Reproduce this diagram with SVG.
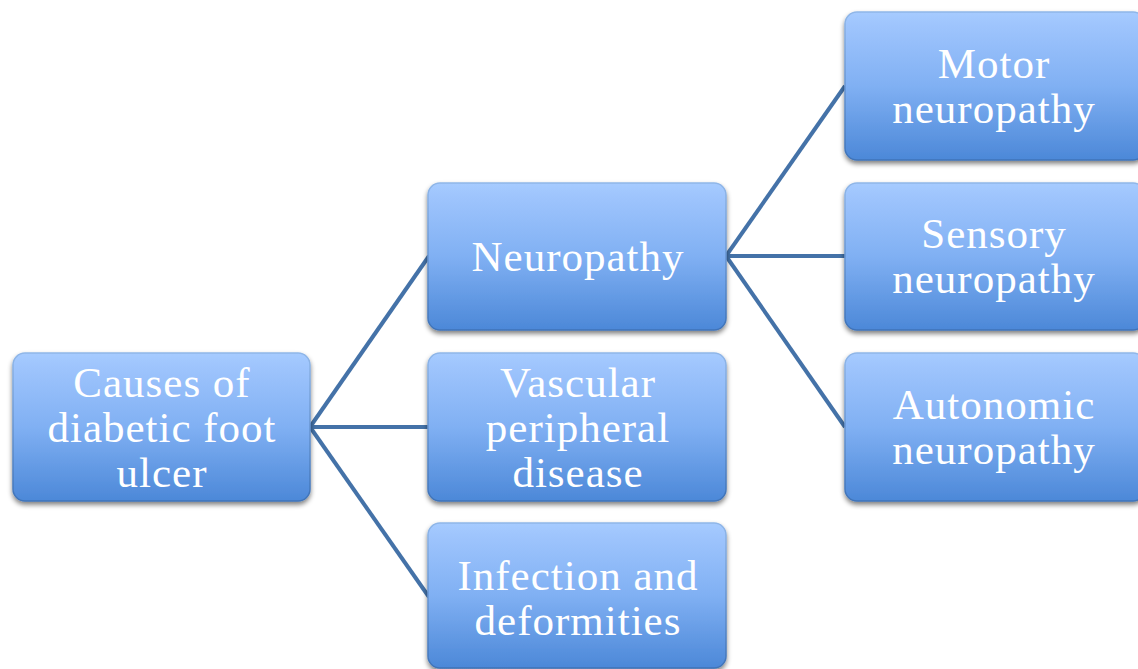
<svg xmlns="http://www.w3.org/2000/svg" width="1138" height="669" viewBox="0 0 1138 669">
<defs>
<linearGradient id="fill" x1="0" y1="0" x2="0" y2="1">
<stop offset="0" stop-color="#a6cbff"/>
<stop offset="0.08" stop-color="#9fc5fd"/>
<stop offset="0.5" stop-color="#80b0f3"/>
<stop offset="1" stop-color="#4c88d8"/>
</linearGradient>
<linearGradient id="edge" x1="0" y1="0" x2="0" y2="1">
<stop offset="0" stop-color="#8fb6e8"/>
<stop offset="1" stop-color="#3f73b8"/>
</linearGradient>
<filter id="sh" x="-10%" y="-10%" width="120%" height="125%">
<feGaussianBlur in="SourceAlpha" stdDeviation="2.5"/>
<feOffset dx="0" dy="3" result="b"/>
<feComponentTransfer><feFuncA type="linear" slope="0.5"/></feComponentTransfer>
<feMerge><feMergeNode/><feMergeNode in="SourceGraphic"/></feMerge>
</filter>
</defs>
<style>
.box{fill:url(#fill);stroke:url(#edge);stroke-width:1.5;filter:url(#sh)}
.lbl{font-family:"Liberation Serif","DejaVu Serif",serif;font-size:43px;fill:#ffffff;text-anchor:middle;letter-spacing:1px}
.con{stroke:#4472a8;stroke-width:4;fill:none}
</style>
<rect width="1138" height="669" fill="#ffffff"/>
<g id="connectors">
<line class="con" x1="310" y1="427" x2="429" y2="256"/>
<line class="con" x1="310" y1="427" x2="429" y2="427"/>
<line class="con" x1="310" y1="427" x2="429" y2="597"/>
<line class="con" x1="726" y1="256" x2="845" y2="86"/>
<line class="con" x1="726" y1="256" x2="845" y2="256"/>
<line class="con" x1="726" y1="256" x2="845" y2="427"/>
</g>
<g id="root">
<rect class="box" x="13" y="353" width="297" height="148" rx="12"/>
<text class="lbl" x="162" y="397">Causes of</text>
<text class="lbl" x="162" y="442">diabetic foot</text>
<text class="lbl" x="162" y="487">ulcer</text>
</g>
<g id="neuropathy">
<rect class="box" x="428" y="183" width="298" height="147" rx="12"/>
<text class="lbl" x="578" y="271">Neuropathy</text>
</g>
<g id="vascular">
<rect class="box" x="428" y="353" width="298" height="148" rx="12"/>
<text class="lbl" x="578" y="397">Vascular</text>
<text class="lbl" x="578" y="442">peripheral</text>
<text class="lbl" x="578" y="487">disease</text>
</g>
<g id="infection">
<rect class="box" x="428" y="523" width="298" height="145" rx="12"/>
<text class="lbl" x="578" y="590">Infection and</text>
<text class="lbl" x="578" y="635">deformities</text>
</g>
<g id="motor">
<rect class="box" x="845" y="12" width="300" height="148" rx="12"/>
<text class="lbl" x="994" y="78">Motor</text>
<text class="lbl" x="994" y="123">neuropathy</text>
</g>
<g id="sensory">
<rect class="box" x="845" y="183" width="300" height="147" rx="12"/>
<text class="lbl" x="994" y="248">Sensory</text>
<text class="lbl" x="994" y="293">neuropathy</text>
</g>
<g id="autonomic">
<rect class="box" x="845" y="353" width="300" height="148" rx="12"/>
<text class="lbl" x="994" y="419">Autonomic</text>
<text class="lbl" x="994" y="464">neuropathy</text>
</g>
</svg>
